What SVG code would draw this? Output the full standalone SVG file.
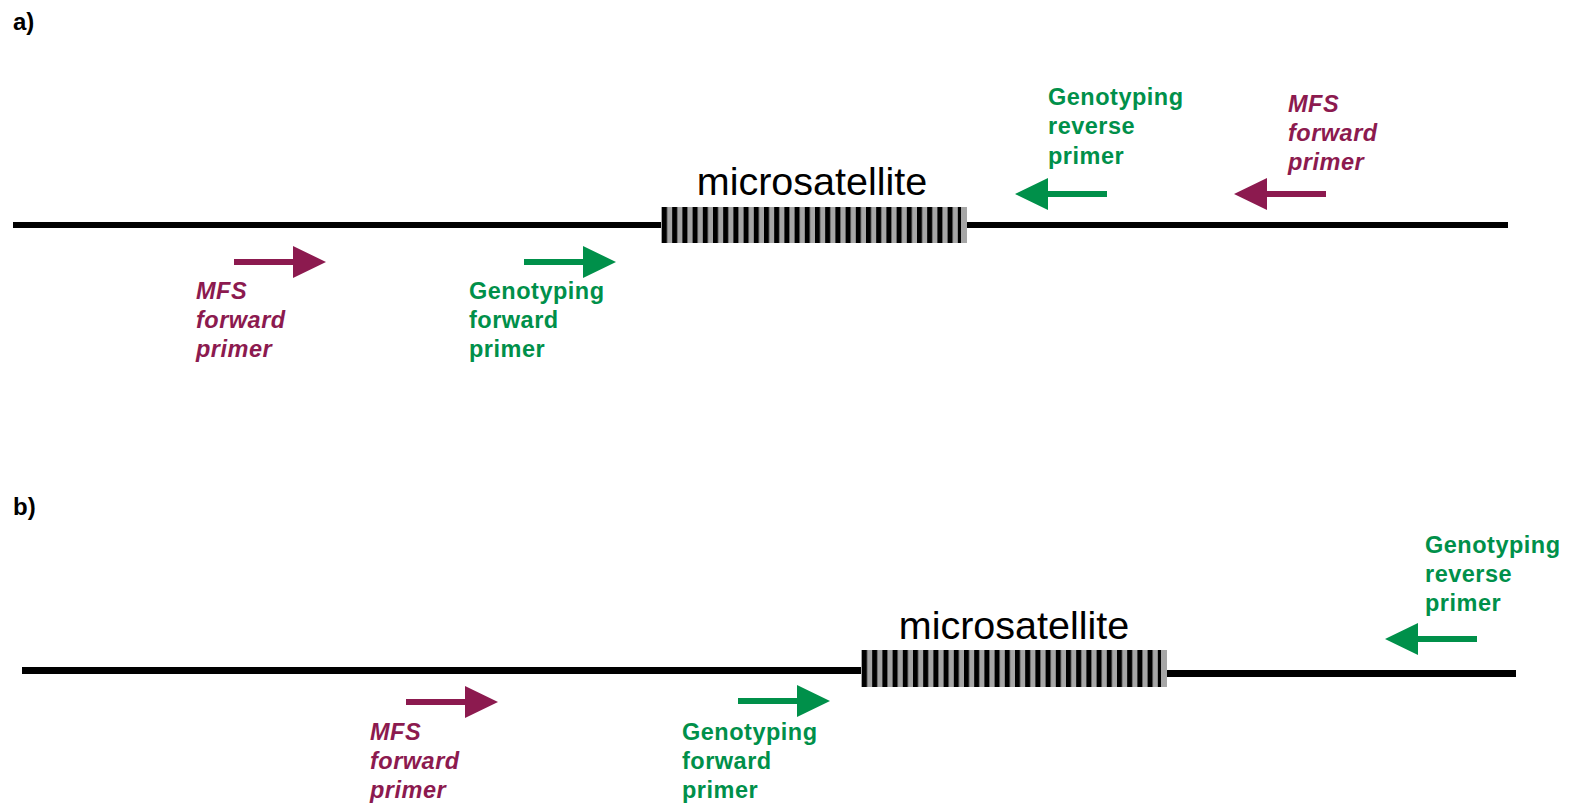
<svg xmlns="http://www.w3.org/2000/svg" xmlns:xlink="http://www.w3.org/1999/xlink" width="1574" height="807" viewBox="0 0 1574 807">
  <style>
    .panel { font-family: "Liberation Sans", Arial, sans-serif; font-weight: bold; font-size: 24px; fill: #000; }
    .ms { font-family: "Liberation Sans", Arial, sans-serif; font-size: 39.5px; fill: #000; text-anchor: middle; }
    .lbl { font-family: "Liberation Sans", Arial, sans-serif; font-weight: bold; font-size: 23.5px; letter-spacing: 0.5px; }
    .mfs { fill: #8c1a4f; font-style: italic; }
    .geno { fill: #00904a; }
    .dna { fill: #000; }
    .arrow-mfs { fill: #8c1a4f; }
    .arrow-geno { fill: #00904a; }
  </style>
  <defs>
    <!-- striped repeat block: gray body with black bars -->
    <pattern id="repeats" x="662" y="0" width="10.2" height="10" patternUnits="userSpaceOnUse">
      <rect x="0" y="0" width="5" height="10" fill="#000"/>
    </pattern>
    <pattern id="repeatsB" x="862" y="0" width="10.2" height="10" patternUnits="userSpaceOnUse">
      <rect x="0" y="0" width="5" height="10" fill="#000"/>
    </pattern>
    <!-- block arrow pointing right, tail at origin -->
    <path id="arrowR" d="M0,-3 H59 V-16 L92,0 L59,16 V3 H0 Z"/>
  </defs>

  <!-- panel a -->
  <g id="panel-a">
    <text class="panel" x="13" y="30">a)</text>
    <g id="dna-a">
      <rect class="dna" x="13" y="222" width="648" height="6"/>
      <rect class="dna" x="967" y="222" width="541" height="6"/>
    </g>
    <g id="microsatellite-a">
      <rect x="661" y="207" width="306" height="36" fill="#a6a6a6"/>
      <rect x="661" y="207" width="300" height="36" fill="url(#repeats)"/>
      <text class="ms" x="812" y="195">microsatellite</text>
    </g>
    <g id="mfs-fwd-a">
      <use xlink:href="#arrowR" class="arrow-mfs" transform="translate(234,262)"/>
      <text class="lbl mfs" x="196"><tspan x="196" y="299">MFS</tspan><tspan x="196" y="328">forward</tspan><tspan x="196" y="357">primer</tspan></text>
    </g>
    <g id="geno-fwd-a">
      <use xlink:href="#arrowR" class="arrow-geno" transform="translate(524,262)"/>
      <text class="lbl geno" x="469"><tspan x="469" y="299">Genotyping</tspan><tspan x="469" y="328">forward</tspan><tspan x="469" y="357">primer</tspan></text>
    </g>
    <g id="geno-rev-a">
      <use xlink:href="#arrowR" class="arrow-geno" transform="translate(1107,194) scale(-1,1)"/>
      <text class="lbl geno" x="1048"><tspan x="1048" y="105">Genotyping</tspan><tspan x="1048" y="134">reverse</tspan><tspan x="1048" y="164">primer</tspan></text>
    </g>
    <g id="mfs-rev-a">
      <use xlink:href="#arrowR" class="arrow-mfs" transform="translate(1326,194) scale(-1,1)"/>
      <text class="lbl mfs" x="1288"><tspan x="1288" y="112">MFS</tspan><tspan x="1288" y="141">forward</tspan><tspan x="1288" y="170">primer</tspan></text>
    </g>
  </g>

  <!-- panel b -->
  <g id="panel-b">
    <text class="panel" x="13" y="515">b)</text>
    <g id="dna-b">
      <rect class="dna" x="22" y="667" width="839" height="7"/>
      <rect class="dna" x="1167" y="670" width="349" height="7"/>
    </g>
    <g id="microsatellite-b">
      <rect x="861" y="650" width="306" height="37" fill="#a6a6a6"/>
      <rect x="861" y="650" width="300" height="37" fill="url(#repeatsB)"/>
      <text class="ms" x="1014" y="639">microsatellite</text>
    </g>
    <g id="mfs-fwd-b">
      <use xlink:href="#arrowR" class="arrow-mfs" transform="translate(406,702)"/>
      <text class="lbl mfs" x="370"><tspan x="370" y="740">MFS</tspan><tspan x="370" y="769">forward</tspan><tspan x="370" y="798">primer</tspan></text>
    </g>
    <g id="geno-fwd-b">
      <use xlink:href="#arrowR" class="arrow-geno" transform="translate(738,701)"/>
      <text class="lbl geno" x="682"><tspan x="682" y="740">Genotyping</tspan><tspan x="682" y="769">forward</tspan><tspan x="682" y="798">primer</tspan></text>
    </g>
    <g id="geno-rev-b">
      <use xlink:href="#arrowR" class="arrow-geno" transform="translate(1477,639) scale(-1,1)"/>
      <text class="lbl geno" x="1425"><tspan x="1425" y="553">Genotyping</tspan><tspan x="1425" y="582">reverse</tspan><tspan x="1425" y="611">primer</tspan></text>
    </g>
  </g>
</svg>
